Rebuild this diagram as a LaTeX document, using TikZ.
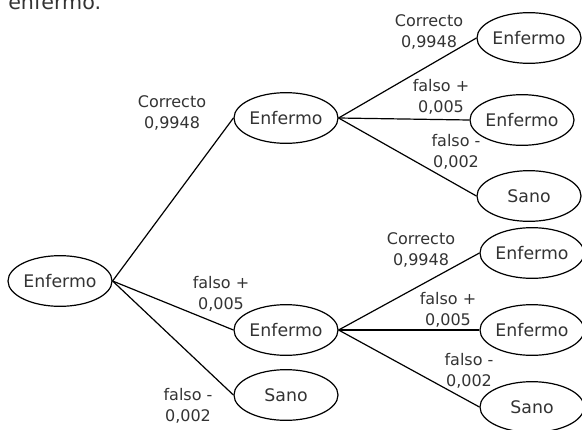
\documentclass[tikz,border=0pt]{standalone}
\usepackage{fontspec}
\setmainfont{DejaVu Sans}
\usetikzlibrary{positioning,shapes.geometric}
\definecolor{tinta}{HTML}{333333}

\begin{document}
\begin{tikzpicture}[
  x=0.75pt, y=-0.75pt,
  font=\fontsize{12}{15.5}\selectfont,
  estado/.style={draw=black, ellipse, line width=0.9pt, minimum width=78pt, minimum height=38pt, inner sep=0pt, text=tinta, font=\fontsize{13}{15}\selectfont},
  prob/.style={align=center, text=tinta, inner sep=0pt},
  rama/.style={line width=0.9pt, draw=black}]
\useasboundingbox (0,0) rectangle (582,429);
\node[anchor=base west, text=tinta, inner sep=0pt, font=\fontsize{15.5}{18}\selectfont] (cola) at (8,9) {enfermo.};
% arbol
\node[estado] (raiz) at (60,281) {Enfermo};
\node[estado] (e1) at (286,118) {Enfermo};
\node[estado] (e2) at (286,330) {Enfermo};
\node[estado] (s1) at (286,395) {Sano};
\node[estado] (e11) at (529,38) {Enfermo};
\node[estado] (e12) at (522,120) {Enfermo};
\node[estado] (s11) at (529,196) {Sano};
\node[estado] (e21) at (532,253) {Enfermo};
\node[estado] (e22) at (532,330) {Enfermo};
\node[estado] (s21) at (532,407) {Sano};
% probabilidades
\node[prob] (p1) at (172,113) {Correcto\\0,9948};
\node[prob] (p2) at (221,294) {falso +\\0,005};
\node[prob] (p3) at (188,406) {falso -\\0,002};
\node[prob] (p11) at (429,32) {Correcto\\0,9948};
\node[prob] (p12) at (441,97) {falso +\\0,005};
\node[prob] (p13) at (456,152) {falso -\\0,002};
\node[prob] (p21) at (421,250) {Correcto\\0,9948};
\node[prob] (p22) at (448,310) {falso +\\0,005};
\node[prob] (p23) at (469,371) {falso -\\0,002};
\draw[rama] (raiz.east) -- (e1.west);
\draw[rama] (raiz.east) -- (e2.west);
\draw[rama] (raiz.east) -- (s1.west);
\draw[rama] (e1.east) -- (e11.west);
\draw[rama] (e1.east) -- (e12.west);
\draw[rama] (e1.east) -- (s11.west);
\draw[rama] (e2.east) -- (e21.west);
\draw[rama] (e2.east) -- (e22.west);
\draw[rama] (e2.east) -- (s21.west);
\end{tikzpicture}
\end{document}
